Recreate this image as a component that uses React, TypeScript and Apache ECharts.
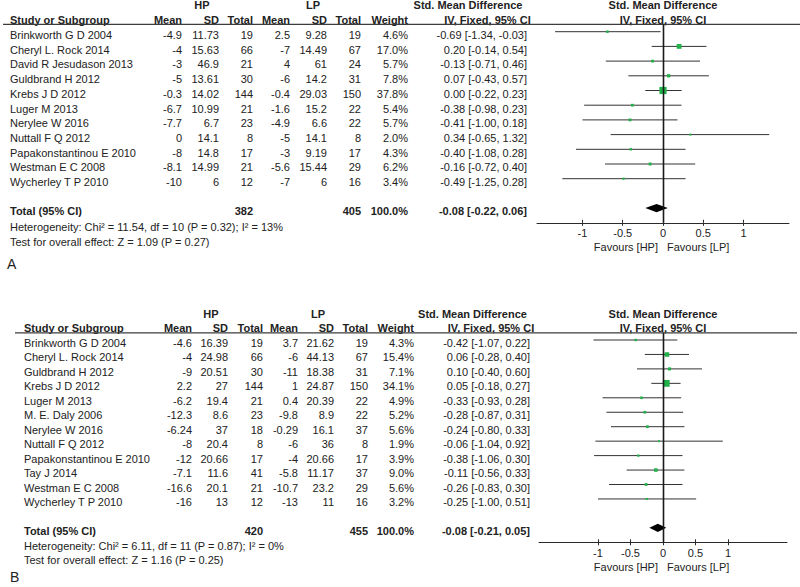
import React, { useEffect, useRef } from 'react';
import * as echarts from 'echarts';

// ---------------- Panel A data ----------------
const studiesA = ['Brinkworth G D 2004', 'Cheryl L. Rock 2014', 'David R Jesudason 2013', 'Guldbrand H 2012', 'Krebs J D 2012', 'Luger M 2013', 'Nerylee W 2016', 'Nuttall F Q 2012', 'Papakonstantinou E 2010', 'Westman E C 2008', 'Wycherley T P 2010'];
const hpMeanA = [-4.9, -4, -3, -5, -0.3, -6.7, -7.7, 0, -8, -8.1, -10];
const hpSdA = [11.73, 15.63, 46.9, 13.61, 14.02, 10.99, 6.7, 14.1, 14.8, 14.99, 6];
const hpTotalA = [19, 66, 21, 30, 144, 21, 23, 8, 17, 21, 12];
const lpMeanA = [2.5, -7, 4, -6, -0.4, -1.6, -4.9, -5, -3, -5.6, -7];
const lpSdA = [9.28, 14.49, 61, 14.2, 29.03, 15.2, 6.6, 14.1, 9.19, 15.44, 6];
const lpTotalA = [19, 67, 24, 31, 150, 22, 22, 8, 17, 29, 16];
const weightA = [4.6, 17.0, 5.7, 7.8, 37.8, 5.4, 5.7, 2.0, 4.3, 6.2, 3.4];
const smdA = [-0.69, 0.20, -0.13, 0.07, 0.00, -0.38, -0.41, 0.34, -0.40, -0.16, -0.49];
const lowerA = [-1.34, -0.14, -0.71, -0.43, -0.22, -0.98, -1.00, -0.65, -1.08, -0.72, -1.25];
const upperA = [-0.03, 0.54, 0.46, 0.57, 0.23, 0.23, 0.18, 1.32, 0.28, 0.40, 0.28];
const totalA = { hp: 382, lp: 405, weight: 100.0, smd: -0.08, lower: -0.22, upper: 0.06 };
const hetTextA = 'Heterogeneity: Chi² = 11.54, df = 10 (P = 0.32); I² = 13%';
const testTextA = 'Test for overall effect: Z = 1.09 (P = 0.27)';

// ---------------- Panel B data ----------------
const studiesB = ['Brinkworth G D 2004', 'Cheryl L. Rock 2014', 'Guldbrand H 2012', 'Krebs J D 2012', 'Luger M 2013', 'M. E. Daly 2006', 'Nerylee W 2016', 'Nuttall F Q 2012', 'Papakonstantinou E 2010', 'Tay J 2014', 'Westman E C 2008', 'Wycherley T P 2010'];
const hpMeanB = [-4.6, -4, -9, 2.2, -6.2, -12.3, -6.24, -8, -12, -7.1, -16.6, -16];
const hpSdB = [16.39, 24.98, 20.51, 27, 19.4, 8.6, 37, 20.4, 20.66, 11.6, 20.1, 13];
const hpTotalB = [19, 66, 30, 144, 21, 23, 18, 8, 17, 41, 21, 12];
const lpMeanB = [3.7, -6, -11, 1, 0.4, -9.8, -0.29, -6, -4, -5.8, -10.7, -13];
const lpSdB = [21.62, 44.13, 18.38, 24.87, 20.39, 8.9, 16.1, 36, 20.66, 11.17, 23.2, 11];
const lpTotalB = [19, 67, 31, 150, 22, 22, 37, 8, 17, 37, 29, 16];
const weightB = [4.3, 15.4, 7.1, 34.1, 4.9, 5.2, 5.6, 1.9, 3.9, 9.0, 5.6, 3.2];
const smdB = [-0.42, 0.06, 0.10, 0.05, -0.33, -0.28, -0.24, -0.06, -0.38, -0.11, -0.26, -0.25];
const lowerB = [-1.07, -0.28, -0.40, -0.18, -0.93, -0.87, -0.80, -1.04, -1.06, -0.56, -0.83, -1.00];
const upperB = [0.22, 0.40, 0.60, 0.27, 0.28, 0.31, 0.33, 0.92, 0.30, 0.33, 0.30, 0.51];
const totalB = { hp: 420, lp: 455, weight: 100.0, smd: -0.08, lower: -0.21, upper: 0.05 };
const hetTextB = 'Heterogeneity: Chi² = 6.11, df = 11 (P = 0.87); I² = 0%';
const testTextB = 'Test for overall effect: Z = 1.16 (P = 0.25)';

const axisTicks = [-1, -0.5, 0, 0.5, 1];
const nullEffect = 0;

const FONT = '"Liberation Sans", Arial, Helvetica, sans-serif';
const TXT = '#222222';
const GREEN = '#22b04a';

type PanelData = {
  studies: string[]; hpMean: number[]; hpSd: number[]; hpTotal: number[];
  lpMean: number[]; lpSd: number[]; lpTotal: number[]; weight: number[];
  smd: number[]; lower: number[]; upper: number[];
  total: { hp: number; lp: number; weight: number; smd: number; lower: number; upper: number };
  het: string; test: string; letter: string;
};

const panelA: PanelData = {
  studies: studiesA, hpMean: hpMeanA, hpSd: hpSdA, hpTotal: hpTotalA, lpMean: lpMeanA, lpSd: lpSdA,
  lpTotal: lpTotalA, weight: weightA, smd: smdA, lower: lowerA, upper: upperA, total: totalA,
  het: hetTextA, test: testTextA, letter: 'A',
};
const panelB: PanelData = {
  studies: studiesB, hpMean: hpMeanB, hpSd: hpSdB, hpTotal: hpTotalB, lpMean: lpMeanB, lpSd: lpSdB,
  lpTotal: lpTotalB, weight: weightB, smd: smdB, lower: lowerB, upper: upperB, total: totalB,
  het: hetTextB, test: testTextB, letter: 'B',
};

// Layout (pixels)
const layoutA = {
  plotLeft: 537, plotWidth: 252, xMin: -1.565, xMax: 1.565,
  rowTop: 31.7, step: 14.7, textOff: 3.3, yMin: -0.5,
  groupY: 5, headY: 20, lineX1: 3, lineX2: 800,
  nameX: 10, hpMean: 182, hpSd: 219, hpTotal: 253, lpMean: 290, lpSd: 327, lpTotal: 361, weightX: 408, ciX: 527,
  hpX: 202, lpX: 313, smdHeadX: 468, ivHeadX: 487.5,
  hetY: 227.3, testY: 241.7, letterX: 7, letterY: 263.7, favY: 246.7, diamondHalf: 4.2,
};
const layoutB = {
  plotLeft: 539, plotWidth: 248, xMin: -1.908, xMax: 1.908,
  rowTop: 340, step: 14.45, textOff: 3.0, yMin: -0.5,
  groupY: 314, headY: 328.3, lineX1: 15, lineX2: 797,
  nameX: 24, hpMean: 192, hpSd: 228, hpTotal: 263, lpMean: 298, lpSd: 334, lpTotal: 368, weightX: 414, ciX: 530,
  hpX: 211, lpX: 318, smdHeadX: 472.5, ivHeadX: 491,
  hetY: 546, testY: 560, letterX: 10, letterY: 576.7, favY: 566.5, diamondHalf: 4.2,
};

type Layout = typeof layoutA;

function ciText(m: number, lo: number, hi: number) {
  return `${m.toFixed(2)} [${lo.toFixed(2)}, ${hi.toFixed(2)}]`;
}

function panelYMax(d: PanelData) {
  return d.studies.length + 2;
}

function buildTable(d: PanelData, L: Layout) {
  const els: any[] = [];
  const t = (text: string, x: number, y: number, align = 'left', bold = false, size = 11) => {
    els.push({
      type: 'text', x, y, silent: true,
      style: {
        text, fill: TXT, fontSize: size, fontFamily: FONT, fontWeight: bold ? 'bold' : 'normal',
        textAlign: align, textVerticalAlign: 'middle', align, verticalAlign: 'middle',
      },
    });
  };
  const zeroX = L.plotLeft + ((nullEffect - L.xMin) / (L.xMax - L.xMin)) * L.plotWidth;
  const lineY = L.rowTop + L.yMin * L.step;
  const axisY = L.rowTop + panelYMax(d) * L.step;
  // vertical line of no effect, drawn as a thin filled bar
  els.push({
    type: 'rect', silent: true, z: 10,
    shape: { x: zeroX - 0.3, y: lineY, width: 1.6, height: axisY - lineY },
    style: { fill: '#1a1a1a' },
  });
  t('HP', L.hpX, L.groupY, 'center', true);
  t('LP', L.lpX, L.groupY, 'center', true);
  t('Std. Mean Difference', L.smdHeadX, L.groupY, 'center', true);
  t('Std. Mean Difference', zeroX, L.groupY, 'center', true);
  t('Study or Subgroup', L.nameX, L.headY, 'left', true);
  t('Mean', L.hpMean, L.headY, 'right', true);
  t('SD', L.hpSd, L.headY, 'right', true);
  t('Total', L.hpTotal, L.headY, 'right', true);
  t('Mean', L.lpMean, L.headY, 'right', true);
  t('SD', L.lpSd, L.headY, 'right', true);
  t('Total', L.lpTotal, L.headY, 'right', true);
  t('Weight', L.weightX, L.headY, 'right', true);
  t('IV, Fixed, 95% CI', L.ivHeadX, L.headY, 'center', true);
  t('IV, Fixed, 95% CI', zeroX, L.headY, 'center', true);
  els.push({
    type: 'line', silent: true,
    shape: { x1: L.lineX1, y1: lineY, x2: L.lineX2, y2: lineY },
    style: { stroke: '#3c3c3c', lineWidth: 1.2 },
  });
  d.studies.forEach((s, i) => {
    const y = L.rowTop + L.step * i + L.textOff;
    t(s, L.nameX, y);
    t(String(d.hpMean[i]), L.hpMean, y, 'right');
    t(String(d.hpSd[i]), L.hpSd, y, 'right');
    t(String(d.hpTotal[i]), L.hpTotal, y, 'right');
    t(String(d.lpMean[i]), L.lpMean, y, 'right');
    t(String(d.lpSd[i]), L.lpSd, y, 'right');
    t(String(d.lpTotal[i]), L.lpTotal, y, 'right');
    t(`${d.weight[i].toFixed(1)}%`, L.weightX, y, 'right');
    t(ciText(d.smd[i], d.lower[i], d.upper[i]), L.ciX, y, 'right');
  });
  const ty = L.rowTop + L.step * (d.studies.length + 1) + L.textOff;
  t('Total (95% CI)', L.nameX, ty, 'left', true);
  t(String(d.total.hp), L.hpTotal, ty, 'right', true);
  t(String(d.total.lp), L.lpTotal, ty, 'right', true);
  t(`${d.total.weight.toFixed(1)}%`, L.weightX, ty, 'right', true);
  t(ciText(d.total.smd, d.total.lower, d.total.upper), L.ciX, ty, 'right', true);
  t(d.het, L.nameX, L.hetY);
  t(d.test, L.nameX, L.testY);
  t(d.letter, L.letterX, L.letterY, 'left', false, 14);
  t('Favours [HP]', zeroX - 5, L.favY, 'right');
  t('Favours [LP]', zeroX + 4, L.favY, 'left');
  return els;
}

function buildPlot(d: PanelData, L: Layout, gi: number) {
  const n = d.studies.length;
  const yMax = panelYMax(d);
  const gridTop = L.rowTop + L.yMin * L.step;
  const grid = { left: L.plotLeft, width: L.plotWidth, top: gridTop, height: (yMax - L.yMin) * L.step, containLabel: false };
  const xMain = {
    type: 'value', gridIndex: gi, min: L.xMin, max: L.xMax, position: 'bottom',
    axisLine: { show: true, onZero: false, lineStyle: { color: '#2a2a2a', width: 1 } },
    axisTick: { show: true, length: 3, customValues: axisTicks, lineStyle: { color: '#2a2a2a' } },
    axisLabel: { show: true, customValues: axisTicks, margin: 5, color: TXT, fontSize: 11, fontFamily: FONT },
    splitLine: { show: false },
  };
  const xOverlay = {
    type: 'value', gridIndex: gi, min: L.xMin, max: L.xMax, position: 'bottom',
    axisLine: { show: false, onZero: false },
    axisTick: { show: true, inside: true, length: 3, customValues: axisTicks, lineStyle: { color: '#2a2a2a' } },
    axisLabel: { show: false },
    splitLine: { show: false },
  };
  const yAxis = {
    type: 'value', gridIndex: gi, min: L.yMin, max: yMax, inverse: true, show: false,
    axisLine: { show: false, onZero: false }, axisTick: { show: false }, axisLabel: { show: false }, splitLine: { show: false },
  };
  const xi = gi * 2;
  const studyData = d.smd.map((v, i) => [v, i, d.lower[i], d.upper[i], d.weight[i]]);
  const studySeries = {
    type: 'custom', xAxisIndex: xi, yAxisIndex: gi, silent: true, z: 3,
    data: studyData,
    encode: { x: [0, 2, 3], y: 1 },
    renderItem: (params: any, api: any) => {
      const y = api.value(1);
      const est = api.coord([api.value(0), y]);
      const lo = api.coord([api.value(2), y]);
      const hi = api.coord([api.value(3), y]);
      const side = Math.max(2, 1.17 * Math.sqrt(api.value(4)));
      return {
        type: 'group',
        children: [
          { type: 'line', shape: { x1: lo[0], y1: lo[1], x2: hi[0], y2: hi[1] }, style: { stroke: '#333', lineWidth: 1 } },
          { type: 'rect', shape: { x: est[0] - side / 2, y: est[1] - side / 2, width: side, height: side }, style: { fill: GREEN } },
        ],
      };
    },
  };
  const diamondSeries = {
    type: 'custom', xAxisIndex: xi, yAxisIndex: gi, silent: true, z: 3,
    data: [[d.total.smd, n + 1, d.total.lower, d.total.upper]],
    encode: { x: [0, 2, 3], y: 1 },
    renderItem: (params: any, api: any) => {
      const y = api.value(1);
      const est = api.coord([api.value(0), y]);
      const lo = api.coord([api.value(2), y]);
      const hi = api.coord([api.value(3), y]);
      const h = L.diamondHalf;
      return {
        type: 'polygon',
        shape: { points: [[lo[0], lo[1]], [est[0], est[1] - h], [hi[0], hi[1]], [est[0], est[1] + h]] },
        style: { fill: '#000' },
      };
    },
  };
  return { grid, xAxes: [xMain, xOverlay], yAxis, series: [studySeries, diamondSeries] };
}

export default function App() {
  const ref = useRef<HTMLDivElement>(null);
  useEffect(() => {
    if (!ref.current) return;
    const chart = echarts.init(ref.current, undefined, { renderer: 'svg' });
    const pA = buildPlot(panelA, layoutA, 0);
    const pB = buildPlot(panelB, layoutB, 1);
    chart.setOption({
      animation: false,
      backgroundColor: '#ffffff',
      grid: [pA.grid, pB.grid],
      xAxis: [...pA.xAxes, ...pB.xAxes],
      yAxis: [pA.yAxis, pB.yAxis],
      series: [...pA.series, ...pB.series],
      graphic: { elements: [...buildTable(panelA, layoutA), ...buildTable(panelB, layoutB)] },
    });
    return () => chart.dispose();
  }, []);
  return (
    <div
      ref={ref}
      style={{ position: 'fixed', left: 0, top: 0, width: 800, height: 587, background: '#fff' }}
    />
  );
}
